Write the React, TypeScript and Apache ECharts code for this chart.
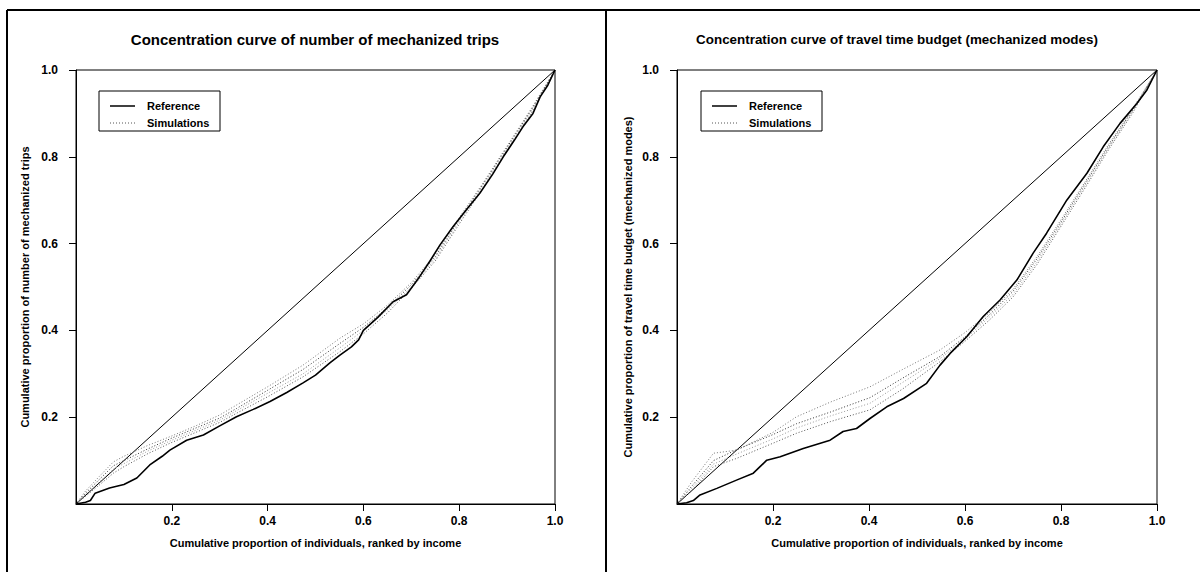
import React, { useEffect, useRef } from "react";
import * as echarts from "echarts";

// ---------- Data ----------
const tickValues = [0.2, 0.4, 0.6, 0.8, 1.0];
const diagX = [0, 1];
const diagY = [0, 1];

// Panel 1: number of mechanized trips
const tripsRefX = [0, 0.02, 0.03, 0.04, 0.07, 0.1, 0.127, 0.154, 0.18, 0.196, 0.231, 0.266, 0.3, 0.335, 0.37, 0.405, 0.44, 0.474, 0.5, 0.53, 0.551, 0.575, 0.59, 0.6, 0.63, 0.662, 0.69, 0.715, 0.739, 0.76, 0.787, 0.815, 0.843, 0.87, 0.892, 0.915, 0.933, 0.954, 0.969, 0.985, 1];
const tripsRefY = [0, 0.004, 0.008, 0.025, 0.037, 0.045, 0.06, 0.09, 0.11, 0.124, 0.147, 0.159, 0.18, 0.201, 0.218, 0.236, 0.257, 0.279, 0.297, 0.325, 0.343, 0.362, 0.378, 0.4, 0.43, 0.466, 0.482, 0.52, 0.56, 0.597, 0.639, 0.678, 0.716, 0.76, 0.8, 0.838, 0.869, 0.9, 0.938, 0.965, 1];
const tripsSimX = [0, 0.02, 0.05, 0.078, 0.1, 0.15, 0.196, 0.25, 0.3, 0.335, 0.4, 0.474, 0.551, 0.6, 0.65, 0.7, 0.75, 0.8, 0.85, 0.9, 0.95, 1];
const tripsSim1 = [0, 0.03, 0.065, 0.097, 0.11, 0.135, 0.155, 0.18, 0.205, 0.228, 0.27, 0.32, 0.382, 0.415, 0.458, 0.51, 0.575, 0.66, 0.74, 0.825, 0.91, 1];
const tripsSim2 = [0, 0.025, 0.058, 0.088, 0.1, 0.127, 0.15, 0.175, 0.198, 0.22, 0.262, 0.31, 0.37, 0.407, 0.452, 0.505, 0.57, 0.655, 0.737, 0.822, 0.907, 1];
const tripsSim3 = [0, 0.022, 0.052, 0.08, 0.093, 0.122, 0.145, 0.17, 0.193, 0.215, 0.255, 0.3, 0.36, 0.4, 0.447, 0.5, 0.565, 0.65, 0.733, 0.818, 0.905, 1];
const tripsSim4 = [0, 0.018, 0.045, 0.071, 0.086, 0.116, 0.14, 0.165, 0.188, 0.209, 0.247, 0.293, 0.351, 0.392, 0.44, 0.497, 0.56, 0.645, 0.728, 0.815, 0.9, 1];

// Panel 2: travel time budget (mechanized modes)
const ttbRefX = [0, 0.02, 0.034, 0.048, 0.083, 0.124, 0.159, 0.173, 0.187, 0.215, 0.263, 0.319, 0.346, 0.374, 0.402, 0.437, 0.472, 0.52, 0.548, 0.569, 0.604, 0.638, 0.673, 0.708, 0.742, 0.77, 0.812, 0.854, 0.888, 0.923, 0.958, 0.979, 1];
const ttbRefY = [0, 0.003, 0.008, 0.021, 0.036, 0.055, 0.071, 0.086, 0.101, 0.109, 0.128, 0.147, 0.167, 0.174, 0.197, 0.224, 0.243, 0.278, 0.32, 0.347, 0.386, 0.432, 0.47, 0.516, 0.578, 0.624, 0.7, 0.762, 0.823, 0.877, 0.923, 0.954, 1];
const ttbSimX = [0, 0.03, 0.076, 0.124, 0.2, 0.249, 0.32, 0.402, 0.47, 0.548, 0.6, 0.65, 0.7, 0.75, 0.8, 0.85, 0.9, 0.95, 1];
const ttbSim1 = [0, 0.05, 0.117, 0.124, 0.165, 0.201, 0.235, 0.27, 0.31, 0.355, 0.395, 0.44, 0.495, 0.57, 0.655, 0.742, 0.83, 0.912, 1];
const ttbSim2 = [0, 0.04, 0.1, 0.125, 0.16, 0.185, 0.212, 0.245, 0.29, 0.34, 0.385, 0.435, 0.49, 0.565, 0.65, 0.738, 0.826, 0.909, 1];
const ttbSim3 = [0, 0.035, 0.092, 0.115, 0.15, 0.175, 0.203, 0.232, 0.28, 0.335, 0.38, 0.43, 0.483, 0.558, 0.645, 0.733, 0.822, 0.906, 1];
const ttbSim4 = [0, 0.03, 0.086, 0.105, 0.14, 0.163, 0.19, 0.217, 0.265, 0.328, 0.375, 0.423, 0.477, 0.552, 0.64, 0.728, 0.818, 0.902, 1];

const titles = [
  "Concentration curve of number of mechanized trips",
  "Concentration curve of travel time budget (mechanized modes)",
];
const xNames = [
  "Cumulative proportion of individuals, ranked by income",
  "Cumulative proportion of individuals, ranked by income",
];
const yNames = [
  "Cumulative proportion of number of mechanized trips",
  "Cumulative proportion of travel time budget (mechanized modes)",
];
const legendLabels = ["Reference", "Simulations"];

const zip = (xs: number[], ys: number[]) => xs.map((x, i) => [x, ys[i]]);

const FONT = "'Liberation Sans', Arial, sans-serif";
const simColors = ["#777", "#333", "#999", "#555"];

function buildPanel(idx: number, refX: number[], refY: number[], simX: number[], sims: number[][]) {
  const base = { xAxisIndex: idx, yAxisIndex: idx, type: "line", symbol: "none", showSymbol: false, silent: true };
  const series: any[] = [
    { ...base, name: "Diagonal", data: zip(diagX, diagY), lineStyle: { color: "#000", width: 1 } },
  ];
  sims.forEach((s, k) => {
    series.push({
      ...base,
      name: `Simulation ${k + 1}`,
      data: zip(simX, s),
      lineStyle: { color: simColors[k % simColors.length], width: 1, type: [1, 2] },
    });
  });
  series.push({ ...base, name: "Reference", data: zip(refX, refY), lineStyle: { color: "#000", width: 1.6 } });
  return series;
}

function axisX(idx: number, name: string) {
  return {
    gridIndex: idx,
    type: "value",
    min: 0,
    max: 1,
    interval: 0.2,
    name,
    nameLocation: "middle",
    nameGap: 33,
    nameTextStyle: { fontFamily: FONT, fontWeight: "bold", fontSize: 11, color: "#000" },
    axisLine: { show: true, onZero: false, lineStyle: { color: "#000", width: 1 } },
    axisTick: { show: true, length: 7, customValues: tickValues, lineStyle: { color: "#000" } },
    axisLabel: {
      customValues: tickValues,
      margin: 11,
      formatter: (v: number) => v.toFixed(1),
      fontFamily: FONT,
      fontWeight: "bold",
      fontSize: 12,
      color: "#000",
    },
    splitLine: { show: false },
  };
}

function axisY(idx: number, name: string, gap: number) {
  return {
    gridIndex: idx,
    type: "value",
    min: 0,
    max: 1,
    interval: 0.2,
    name,
    nameLocation: "middle",
    nameGap: gap,
    nameTextStyle: { fontFamily: FONT, fontWeight: "bold", fontSize: 11, color: "#000" },
    axisLine: { show: true, onZero: false, lineStyle: { color: "#000", width: 1 } },
    axisTick: { show: true, length: 7, customValues: tickValues, lineStyle: { color: "#000" } },
    axisLabel: {
      customValues: tickValues,
      margin: 18,
      formatter: (v: number) => v.toFixed(1),
      fontFamily: FONT,
      fontWeight: "bold",
      fontSize: 12,
      color: "#000",
    },
    splitLine: { show: false },
  };
}

function legendGraphic(x: number, y: number) {
  return {
    type: "group",
    x,
    y,
    children: [
      { type: "rect", shape: { x: 0, y: 0, width: 121, height: 40 }, style: { fill: "#fff", stroke: "#000", lineWidth: 1 } },
      { type: "line", shape: { x1: 11, y1: 15, x2: 36, y2: 15 }, style: { stroke: "#000", lineWidth: 1.5 } },
      { type: "line", shape: { x1: 11, y1: 32, x2: 36, y2: 32 }, style: { stroke: "#555", lineWidth: 1, lineDash: [1, 2] } },
      { type: "text", x: 48, y: 15, style: { text: legendLabels[0], font: `bold 11px ${FONT}`, fill: "#000", verticalAlign: "middle" } },
      { type: "text", x: 48, y: 32, style: { text: legendLabels[1], font: `bold 11px ${FONT}`, fill: "#000", verticalAlign: "middle" } },
    ],
  };
}

export default function App() {
  const ref = useRef<HTMLDivElement>(null);
  useEffect(() => {
    if (!ref.current) return;
    const chart = echarts.init(ref.current, null, { renderer: "svg" });
    const option: any = {
      animation: false,
      backgroundColor: "#fff",
      title: [
        { text: titles[0], left: 310, top: 27, textAlign: "center", textStyle: { fontFamily: FONT, fontWeight: "bold", fontSize: 15, color: "#000" } },
        { text: titles[1], left: 892, top: 28, textAlign: "center", textStyle: { fontFamily: FONT, fontWeight: "bold", fontSize: 13.4, color: "#000" } },
      ],
      grid: [
        { left: 76, top: 70, width: 479, height: 434, show: true, borderColor: "#000", borderWidth: 1, backgroundColor: "transparent" },
        { left: 677, top: 70, width: 480, height: 434, show: true, borderColor: "#000", borderWidth: 1, backgroundColor: "transparent" },
      ],
      xAxis: [axisX(0, xNames[0]), axisX(1, xNames[1])],
      yAxis: [axisY(0, yNames[0], 46), axisY(1, yNames[1], 44)],
      series: [
        ...buildPanel(0, tripsRefX, tripsRefY, tripsSimX, [tripsSim1, tripsSim2, tripsSim3, tripsSim4]),
        ...buildPanel(1, ttbRefX, ttbRefY, ttbSimX, [ttbSim1, ttbSim2, ttbSim3, ttbSim4]),
      ],
      graphic: [
        { type: "line", shape: { x1: 7, y1: 10, x2: 1200, y2: 10 }, style: { stroke: "#000", lineWidth: 2 } },
        { type: "line", shape: { x1: 7, y1: 10, x2: 7, y2: 572 }, style: { stroke: "#000", lineWidth: 2 } },
        { type: "line", shape: { x1: 606, y1: 10, x2: 606, y2: 572 }, style: { stroke: "#000", lineWidth: 2 } },
        legendGraphic(99, 91),
        legendGraphic(701, 91),
      ],
    };
    chart.setOption(option);
    return () => chart.dispose();
  }, []);
  return <div ref={ref} style={{ position: "fixed", left: 0, top: 0, width: 1200, height: 572 }} />;
}
